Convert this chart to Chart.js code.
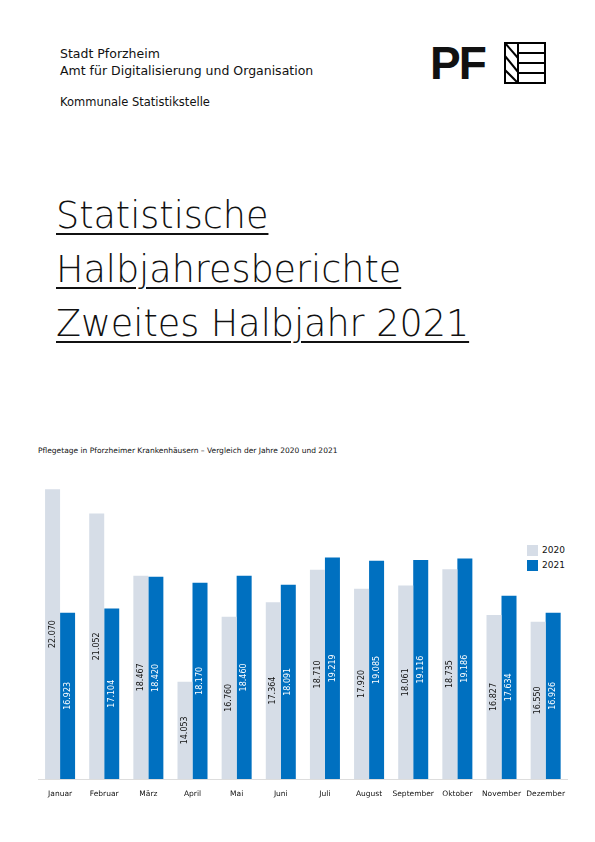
<!DOCTYPE html>
<html><head><meta charset="utf-8">
<script src="https://cdn.jsdelivr.net/npm/chart.js@4"></script>
<style>
body{margin:0;width:595px;height:842px;background:#fff;font-family:"DejaVu Sans",sans-serif;position:relative;color:#111}
.hd{position:absolute;left:60px;font-size:12.5px}
.title{position:absolute;left:56px;font-size:36.5px;font-weight:200;text-decoration:underline;text-decoration-thickness:2px;text-underline-offset:5px}
</style></head><body>
<div class="hd" style="top:46px">Stadt Pforzheim</div>
<div class="hd" style="top:63px">Amt für Digitalisierung und Organisation</div>
<div class="hd" style="top:95px;font-size:11.5px">Kommunale Statistikstelle</div>
<div style="position:absolute;left:430px;top:36px;font-size:46px;font-weight:700;letter-spacing:-2px;font-family:'Liberation Sans'">PF</div>
<svg style="position:absolute;left:504px;top:42px" width="42" height="42"><rect x="1" y="1" width="40" height="40" fill="none" stroke="#000" stroke-width="2"/><g stroke="#000" stroke-width="2"><line x1="14" y1="1" x2="14" y2="41"/><line x1="14" y1="11" x2="41" y2="11"/><line x1="14" y1="21" x2="41" y2="21"/><line x1="14" y1="31" x2="41" y2="31"/><line x1="1" y1="1" x2="14" y2="16"/><line x1="1" y1="14" x2="14" y2="30"/><line x1="1" y1="28" x2="14" y2="41"/></g></svg>
<div class="title" style="top:194px">Statistische</div>
<div class="title" style="top:248px">Halbjahresberichte</div>
<div class="title" style="top:302px">Zweites Halbjahr 2021</div>
<div style="position:absolute;left:38px;top:446px;font-size:7.5px">Pflegetage in Pforzheimer Krankenhäusern – Vergleich der Jahre 2020 und 2021</div>
<div style="position:absolute;left:527px;top:543px;font-size:9px;line-height:15px">
<div><span style="display:inline-block;width:11px;height:11px;background:#d6dde7;vertical-align:middle;margin-right:4px"></span>2020</div>
<div><span style="display:inline-block;width:11px;height:11px;background:#0070c0;vertical-align:middle;margin-right:4px"></span>2021</div></div>
<div style="position:absolute;left:38px;top:474px;width:530px;height:328px"><canvas id="c"></canvas></div>
<script>
const months = ['Januar','Februar','März','April','Mai','Juni','Juli','August','September','Oktober','November','Dezember'];
const y2020 = [22070,21052,18467,14053,16760,17364,18710,17920,18061,18735,16827,16550];
const y2021 = [16923,17104,18420,18170,18460,18091,19219,19085,19116,19186,17634,16926];

const fmt = v => v.toLocaleString('de-DE');
const labelPlugin = {
  id: 'vlabels',
  afterDatasetsDraw(chart) {
    const ctx = chart.ctx;
    const bottom = chart.chartArea.bottom;
    chart.data.datasets.forEach((ds, i) => {
      chart.getDatasetMeta(i).data.forEach((bar, j) => {
        ctx.save();
        ctx.translate(bar.x, (bar.y + bottom) / 2);
        ctx.rotate(-Math.PI / 2);
        ctx.fillStyle = i === 0 ? '#111' : '#fff';
        ctx.font = '8px "DejaVu Sans"';
        ctx.textAlign = 'center';
        ctx.textBaseline = 'middle';
        ctx.fillText(fmt(ds.data[j]), 0, 0);
        ctx.restore();
      });
    });
  }
};

new Chart(document.getElementById('c'), {
  type: 'bar',
  data: {
    labels: months,
    datasets: [
      {label: '2020', data: y2020, backgroundColor: '#d6dde7', categoryPercentage: 0.68, barPercentage: 1},
      {label: '2021', data: y2021, backgroundColor: '#0070c0', categoryPercentage: 0.68, barPercentage: 1}
    ]
  },
  options: {
    responsive: true, maintainAspectRatio: false, animation: false,
    plugins: {legend: {display: false}, tooltip: {enabled: false}},
    scales: {
      y: {display: false, min: 10000, max: 22700},
      x: {grid: {display: false}, border: {color: '#ddd'},
          ticks: {color: '#111', font: {size: 7.5, family: 'DejaVu Sans'}, maxRotation: 0, autoSkip: false}}
    }
  },
  plugins: [labelPlugin]
});
</script>
</body></html>
